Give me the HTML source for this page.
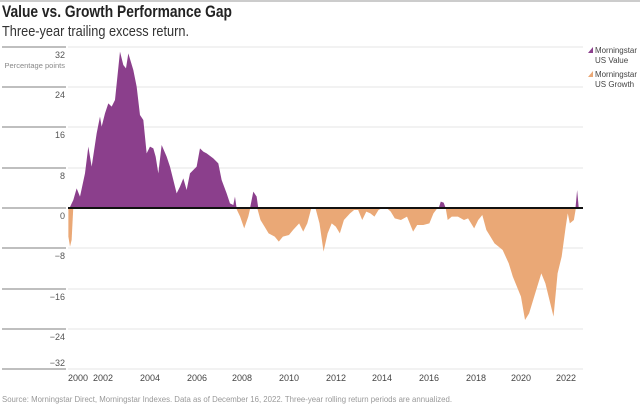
<!DOCTYPE html>
<html><head><meta charset="utf-8"><style>
body{margin:0;background:#fff;}
svg{display:block;font-family:"Liberation Sans",sans-serif;}
</style></head><body>
<svg width="640" height="414" viewBox="0 0 640 414">
<line x1="0" y1="1" x2="640" y2="1" stroke="#ccc" stroke-width="2"/>
<text x="2" y="17" font-size="16.5" font-weight="bold" fill="#222" textLength="230" lengthAdjust="spacingAndGlyphs">Value vs. Growth Performance Gap</text>
<text x="2" y="36" font-size="15" fill="#333" textLength="187" lengthAdjust="spacingAndGlyphs">Three-year trailing excess return.</text>
<g stroke="#e6e6e6" stroke-width="1">
<line x1="68" y1="47" x2="583" y2="47"/><line x1="68" y1="87" x2="583" y2="87"/><line x1="68" y1="127" x2="583" y2="127"/><line x1="68" y1="168" x2="583" y2="168"/><line x1="68" y1="248" x2="583" y2="248"/><line x1="68" y1="289" x2="583" y2="289"/><line x1="68" y1="329" x2="583" y2="329"/><line x1="68" y1="369" x2="583" y2="369"/>
</g>
<g stroke="#999" stroke-width="1.2">
<line x1="2" y1="47" x2="66" y2="47"/><line x1="2" y1="87" x2="66" y2="87"/><line x1="2" y1="127" x2="66" y2="127"/><line x1="2" y1="168" x2="66" y2="168"/><line x1="2" y1="208" x2="66" y2="208"/><line x1="2" y1="248" x2="66" y2="248"/><line x1="2" y1="289" x2="66" y2="289"/><line x1="2" y1="329" x2="66" y2="329"/><line x1="2" y1="369" x2="66" y2="369"/>
</g>
<g font-size="9" fill="#555" text-anchor="end">
<text x="65" y="58">32</text><text x="65" y="98">24</text><text x="65" y="138">16</text><text x="65" y="179">8</text><text x="65" y="219">0</text><text x="65" y="259">−8</text><text x="65" y="300">−16</text><text x="65" y="340">−24</text><text x="65" y="366">−32</text>
<text x="65" y="68" font-size="7.5" fill="#888">Percentage points</text>
</g>
<g transform="scale(0.3333)">
<polygon fill="#8b3f8c" points="208,625 220,600 230,565 240,590 255,520 265,440 275,500 290,400 300,350 305,380 315,340 325,310 335,320 345,300 360,155 370,195 378,205 385,160 400,210 410,260 420,345 430,360 440,460 450,440 460,445 467,470 475,520 485,435 500,470 510,500 520,540 530,580 540,560 550,535 560,570 570,520 580,510 590,500 600,445 610,455 620,460 640,475 655,490 665,540 680,580 690,610 700,615 705,590 710,625"/>
<polygon fill="#8b3f8c" points="750,625 760,575 770,590 775,625"/>
</g>
<g transform="translate(0,200) scale(0.407,0.3333)">
<g fill="#eaa876">
<polygon points="168,24 168,110 172,140 176,120 180,24"/>
<polygon points="580,24 590,50 600,85 610,50 615,24"/>
<polygon points="632,24 640,60 650,80 660,100 675,110 685,125 695,110 710,105 720,90 735,70 745,95 755,70 765,24"/>
<polygon points="775,24 785,70 795,155 805,100 815,70 825,80 835,100 845,60 860,40 870,30 880,30 890,60 900,35 910,40 920,50 930,30 940,24"/>
<polygon points="950,24 960,35 970,55 985,60 1000,50 1015,95 1025,75 1040,75 1055,70 1065,40 1075,24"/>
<polygon points="1095,24 1100,60 1110,50 1125,50 1140,60 1150,55 1165,85 1175,60 1185,45 1195,90 1205,110 1215,130 1225,140 1235,150 1250,190 1260,230 1270,260 1280,290 1290,360 1300,340 1310,300 1320,260 1330,220 1340,250 1350,300 1360,350 1370,220 1380,170 1390,80 1395,40 1400,70 1410,60 1415,24"/>
</g>
<g fill="#8b3f8c">
<polygon points="1078,24 1083,5 1090,8 1095,24"/>
<polygon points="1414,24 1418,-30 1422,24"/>
</g>
</g>
<line x1="68" y1="208" x2="583" y2="208" stroke="#111" stroke-width="2"/>
<g font-size="9" fill="#444" text-anchor="middle">
<text x="78" y="381">2000</text><text x="103" y="381">2002</text><text x="150" y="381">2004</text><text x="197" y="381">2006</text><text x="242" y="381">2008</text><text x="289" y="381">2010</text><text x="336" y="381">2012</text><text x="382" y="381">2014</text><text x="429" y="381">2016</text><text x="476" y="381">2018</text><text x="521" y="381">2020</text><text x="566" y="381">2022</text>
</g>
<text x="2" y="402" font-size="8" fill="#999" textLength="450" lengthAdjust="spacingAndGlyphs">Source: Morningstar Direct, Morningstar Indexes. Data as of December 16, 2022. Three-year rolling return periods are annualized.</text>
<polygon points="588,53 593,53 593,47" fill="#8b3f8c"/>
<polygon points="588,77 593,77 593,71" fill="#eaa876"/>
<g font-size="8" fill="#444">
<text x="595" y="53" textLength="42" lengthAdjust="spacingAndGlyphs">Morningstar</text><text x="595" y="63">US Value</text>
<text x="595" y="77" textLength="42" lengthAdjust="spacingAndGlyphs">Morningstar</text><text x="595" y="87">US Growth</text>
</g>
</svg>
</body></html>
